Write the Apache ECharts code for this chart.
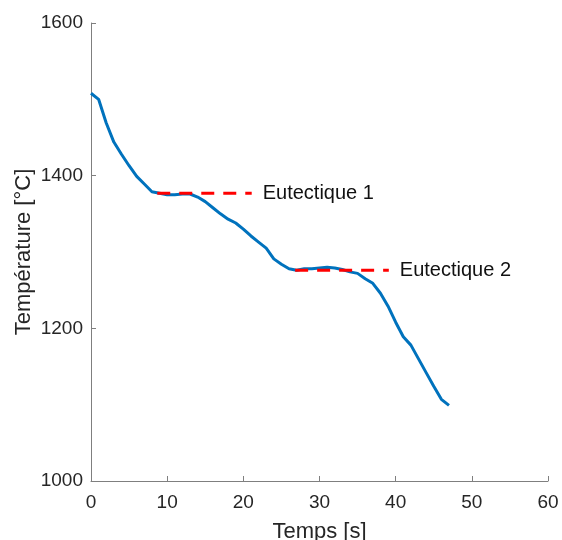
<!DOCTYPE html>
<html>
<head>
<meta charset="utf-8">
<script src="https://cdn.jsdelivr.net/npm/echarts@6/dist/echarts.min.js"></script>
<style>html,body{margin:0;padding:0;background:#fff;}#c{width:562px;height:540px;}</style>
</head>
<body>
<div id="c"></div>
<script>
const timeS = [0,1,2,3,4,5,6,7,8,9,10,11,12,13,14,15,16,17,18,19,20,21,22,23,24,25,26,27,28,29,30,31,32,33,34,35,36,37,38,39,40,41,42,43,44,45,46,47];
const tempC = [1508,1500,1469,1444,1428,1413,1399,1389,1379,1377,1375,1375,1376,1376,1372,1366,1358,1350,1343,1338,1330,1321,1313,1305,1291,1284,1278,1276,1278,1278,1279,1280,1279,1277,1274,1272,1265,1259,1246,1229,1208,1189,1178,1160,1142,1124,1107,1099];
const eut1X = [8.7, 21.1];
const eut1T = 1377;
const eut2X = [26.8, 39.1];
const eut2T = 1276;
const xTicks = {min: 0, max: 60, interval: 10};
const yTicks = {min: 1000, max: 1600, interval: 200};

const chart = echarts.init(document.getElementById('c'), null, {renderer: 'canvas'});
const font = 'Liberation Sans, Arial, Helvetica, sans-serif';
const axisCol = '#7f7f7f';
const textCol = '#262626';
chart.setOption({
  animation: false,
  backgroundColor: '#fff',
  grid: {left: 91, right: 14, top: 23, bottom: 59, containLabel: false, outerBoundsMode: 'none'},
  xAxis: {
    type: 'value', min: xTicks.min, max: xTicks.max, interval: xTicks.interval,
    name: 'Temps [s]', nameLocation: 'middle', nameGap: 40, nameMoveOverlap: false,
    nameTextStyle: {fontSize: 22, color: textCol, fontFamily: font},
    axisLine: {show: true, lineStyle: {color: axisCol, width: 1}},
    axisTick: {show: true, inside: true, length: 5, lineStyle: {color: axisCol}},
    axisLabel: {fontSize: 19, color: textCol, fontFamily: font, margin: 12, formatter: v => String(v)},
    splitLine: {show: false}
  },
  yAxis: {
    type: 'value', min: yTicks.min, max: yTicks.max, interval: yTicks.interval,
    name: 'Température [°C]', nameLocation: 'middle', nameGap: 56, nameMoveOverlap: false,
    nameTextStyle: {fontSize: 22, color: textCol, fontFamily: font},
    axisLine: {show: true, lineStyle: {color: axisCol, width: 1}},
    axisTick: {show: true, inside: true, length: 5, lineStyle: {color: axisCol}},
    axisLabel: {fontSize: 19, color: textCol, fontFamily: font, margin: 8, formatter: v => String(v)},
    splitLine: {show: false}
  },
  series: [
    {
      type: 'line', name: 'T', showSymbol: false, smooth: false,
      data: timeS.map((t, i) => [t, tempC[i]]),
      lineStyle: {color: '#0072BD', width: 3}
    },
    {
      type: 'line', name: 'Eutectique 1', showSymbol: false,
      data: eut1X.map(x => [x, eut1T]),
      lineStyle: {color: '#ff0000', width: 3, type: [13, 9]},
      endLabel: {show: true, formatter: '{a}', color: '#111', fontSize: 20, fontFamily: font, distance: 11}
    },
    {
      type: 'line', name: 'Eutectique 2', showSymbol: false,
      data: eut2X.map(x => [x, eut2T]),
      lineStyle: {color: '#ff0000', width: 3, type: [13, 9]},
      endLabel: {show: true, formatter: '{a}', color: '#111', fontSize: 20, fontFamily: font, distance: 11}
    }
  ]
});
</script>
</body>
</html>
